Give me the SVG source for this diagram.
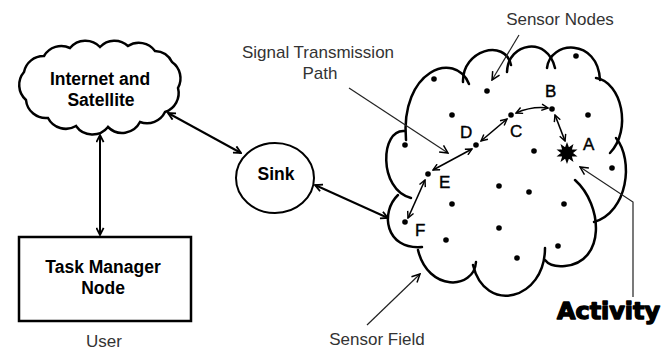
<svg xmlns="http://www.w3.org/2000/svg" width="672" height="352" viewBox="0 0 672 352">
<defs>
<marker id="ah" viewBox="0 0 10 10" markerUnits="userSpaceOnUse" markerWidth="9" markerHeight="9" refX="9" refY="5" orient="auto-start-reverse">
<path d="M1,1 L9,5 L1,9" fill="none" stroke="#000" stroke-width="2"/>
</marker>
<marker id="ahs" viewBox="0 0 10 10" markerUnits="userSpaceOnUse" markerWidth="8" markerHeight="8" refX="9" refY="5" orient="auto-start-reverse">
<path d="M1,1 L9,5 L1,9" fill="none" stroke="#000" stroke-width="1.8"/>
</marker>
<marker id="ahl" viewBox="0 0 10 10" markerUnits="userSpaceOnUse" markerWidth="10" markerHeight="10" refX="9" refY="5" orient="auto">
<path d="M1,1 L9,5 L1,9" fill="none" stroke="#000" stroke-width="1.5"/>
</marker>
</defs>
<style>
.ln{fill:none;stroke:#000;stroke-width:2.5;stroke-linecap:round}
.cn{fill:none;stroke:#000;stroke-width:2}
.pa{fill:none;stroke:#000;stroke-width:1.6}
.an{fill:none;stroke:#222;stroke-width:1.2}
.b{font-family:"Liberation Sans",Arial,sans-serif;font-weight:bold;font-size:17.5px;fill:#000;text-anchor:middle}
.r{font-family:"Liberation Sans",Arial,sans-serif;font-size:17px;fill:#333;text-anchor:middle}
.lt{font-family:"Liberation Sans",Arial,sans-serif;font-size:17px;fill:#000;stroke:#000;stroke-width:0.4}
.dot{fill:#000}
</style>
<rect width="672" height="352" fill="#fff"/>

<g id="internet">
<path class="ln" d="M24,72 A20,20 0 0 1 44,56 A20,20 0 0 1 70,48 A20,20 0 0 1 100,47 A20,20 0 0 1 128,46 A20,20 0 0 1 155,51 A20,20 0 0 1 172,62 A20,20 0 0 1 178,88 A20,20 0 0 1 165,112 A20,20 0 0 1 140,122 A20,20 0 0 1 108,127 A20,20 0 0 1 76,126 A20,20 0 0 1 48,118 A20,20 0 0 1 26,100 A20,20 0 0 1 24,72 Z" fill="#fff"/>
<text class="b" x="100" y="85">Internet and</text>
<text class="b" x="101" y="106">Satellite</text>
</g>

<g id="taskmanager">
<rect x="19" y="237" width="172" height="84" fill="#fff" stroke="#000" stroke-width="2.5"/>
<text class="b" x="103" y="273">Task Manager</text>
<text class="b" x="103" y="294">Node</text>
<text class="r" x="104" y="347">User</text>
</g>

<g id="sink">
<ellipse cx="275" cy="178" rx="39" ry="35" fill="#fff" stroke="#000" stroke-width="2"/>
<text class="b" x="276" y="180">Sink</text>
</g>

<g id="sensorfield">
<path class="ln" d="M406,140 C400,70 455,50 469,84"/>
<path class="ln" d="M463,82 C462,50 505,38 511,65"/>
<path class="ln" d="M507,72 C508,42 548,36 555,68"/>
<path class="ln" d="M547,68 C550,40 598,38 600,80"/>
<path class="ln" d="M596,78 C622,82 632,130 610,153"/>
<path class="ln" d="M616,138 C634,160 628,212 594,222"/>
<path class="ln" d="M575,180 C603,205 606,262 565,266 C555,267 548,264 545,260"/>
<path class="ln" d="M545,248 C545,300 485,315 473,265"/>
<path class="ln" d="M476,262 C474,290 428,292 418,250"/>
<path class="ln" d="M398,195 C380,212 385,250 422,247"/>
<path class="ln" d="M405,131 C380,128 378,190 411,198"/>
<g id="sensornodes">
<circle class="dot" cx="434" cy="79" r="2.8"/>
<circle class="dot" cx="487" cy="91" r="2.8"/>
<circle class="dot" cx="576" cy="56" r="2.8"/>
<circle class="dot" cx="452" cy="115" r="2.8"/>
<circle class="dot" cx="588" cy="115" r="2.8"/>
<circle class="dot" cx="405" cy="145" r="2.8"/>
<circle class="dot" cx="534" cy="151" r="2.8"/>
<circle class="dot" cx="612" cy="168" r="2.8"/>
<circle class="dot" cx="511" cy="115" r="2.8"/>
<circle class="dot" cx="552" cy="109" r="2.8"/>
<circle class="dot" cx="476" cy="145" r="2.8"/>
<circle class="dot" cx="428" cy="174" r="2.8"/>
<circle class="dot" cx="405" cy="222" r="2.8"/>
<circle class="dot" cx="499" cy="186" r="2.8"/>
<circle class="dot" cx="529" cy="192" r="2.8"/>
<circle class="dot" cx="452" cy="204" r="2.8"/>
<circle class="dot" cx="564" cy="204" r="2.8"/>
<circle class="dot" cx="499" cy="228" r="2.8"/>
<circle class="dot" cx="446" cy="240" r="2.8"/>
<circle class="dot" cx="558" cy="246" r="2.8"/>
<circle class="dot" cx="517" cy="258" r="2.8"/>
</g>
<g id="activitynode">
<polygon class="dot" points="567,142 568.9,147.3 573.5,144.1 571.9,149.5 577.5,149.6 573,153 577.5,156.4 571.9,156.5 573.5,161.9 568.9,158.7 567,164 565.1,158.7 560.5,161.9 562.1,156.5 556.5,156.4 561,153 556.5,149.6 562.1,149.5 560.5,144.1 565.1,147.3"/>
<circle class="dot" cx="567" cy="153" r="6"/>
</g>
<text class="lt" x="583" y="150">A</text>
<text class="lt" x="545" y="97">B</text>
<text class="lt" x="510" y="137">C</text>
<text class="lt" x="460" y="138">D</text>
<text class="lt" x="439" y="188">E</text>
<text class="lt" x="415" y="236">F</text>
</g>

<g id="connectors">
<line class="cn" x1="100" y1="135" x2="100" y2="235" marker-start="url(#ah)" marker-end="url(#ah)"/>
<line class="cn" x1="168" y1="113" x2="241" y2="153" marker-start="url(#ah)" marker-end="url(#ah)"/>
<line class="cn" x1="315" y1="185" x2="388" y2="218" marker-start="url(#ah)" marker-end="url(#ah)"/>
<path class="pa" d="M516,113 Q532,106 548,108" marker-start="url(#ahs)" marker-end="url(#ahs)"/>
<path class="pa" d="M555,115 L565,141" marker-start="url(#ahs)" marker-end="url(#ahs)"/>
<path class="pa" d="M481,141 L507,119" marker-start="url(#ahs)" marker-end="url(#ahs)"/>
<path class="pa" d="M433,170 L472,149" marker-start="url(#ahs)" marker-end="url(#ahs)"/>
<path class="pa" d="M408,218 L425,180" marker-start="url(#ahs)" marker-end="url(#ahs)"/>
<line class="an" x1="349" y1="88" x2="448" y2="153" marker-end="url(#ahl)"/>
<line class="an" x1="519" y1="35" x2="492" y2="80" marker-end="url(#ahl)"/>
<line class="an" x1="367" y1="325" x2="420" y2="274" marker-end="url(#ahl)"/>
<polyline class="an" points="633,297 633,202 580,167" marker-end="url(#ahl)"/>
</g>

<g id="labels">
<text class="r" x="318" y="58">Signal Transmission</text>
<text class="r" x="320" y="79">Path</text>
<text class="r" x="560" y="25">Sensor Nodes</text>
<text class="r" x="377" y="345">Sensor Field</text>
<text x="557" y="319" textLength="103" lengthAdjust="spacingAndGlyphs" style="font-family:'DejaVu Sans',sans-serif;font-weight:bold;font-size:23px;fill:#000;stroke:#000;stroke-width:1.4;stroke-linejoin:round">Activity</text>
</g>
</svg>
